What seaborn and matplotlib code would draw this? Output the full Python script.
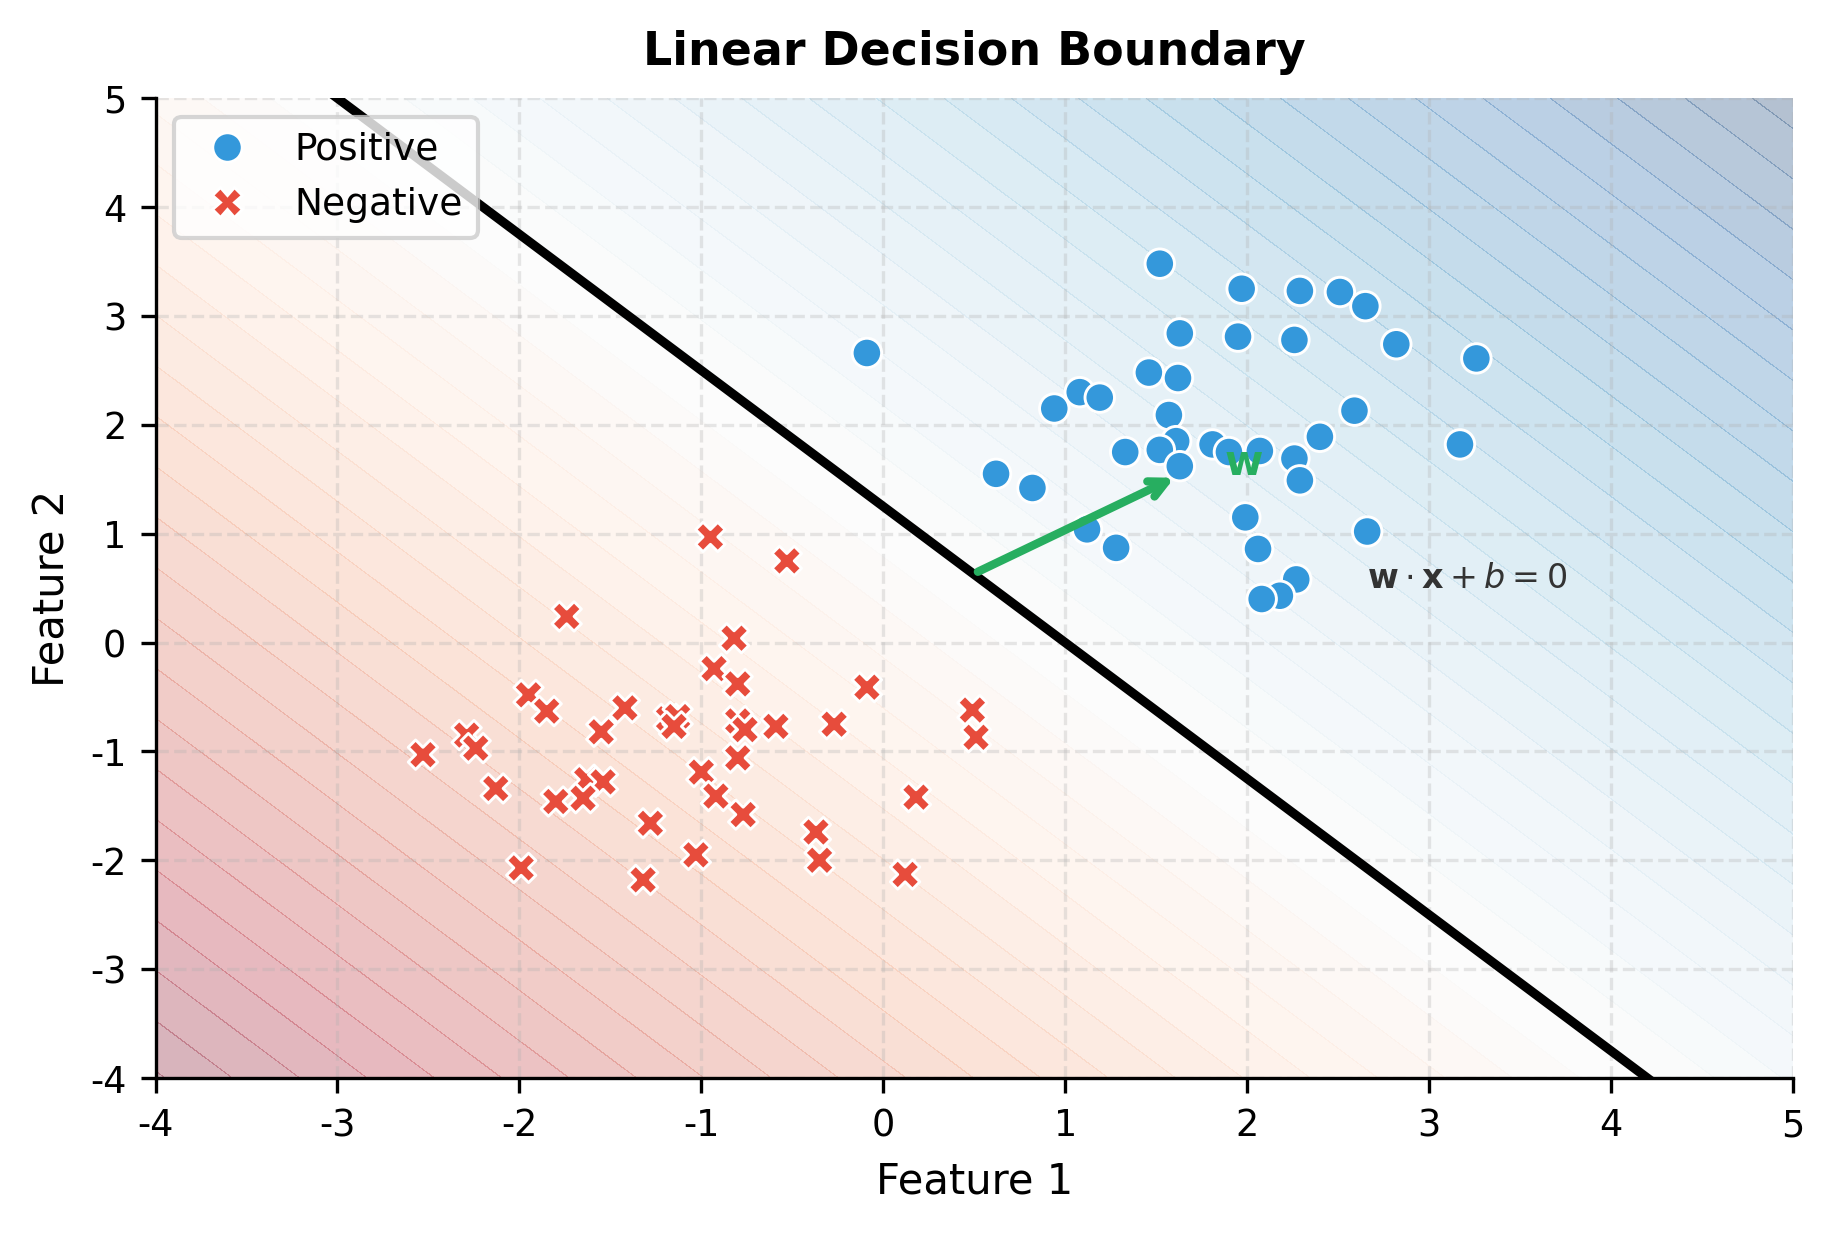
import numpy as np
import pandas as pd
import seaborn as sns
import matplotlib.pyplot as plt

plt.rcParams['axes.unicode_minus'] = False

# positive class (blue circles)
pos_x = [1.52, 1.97, 2.29, 2.51, 2.65, 1.63, 1.95, 2.26, 2.82, 3.26,
         -0.09, 1.46, 1.62, 1.08, 1.19, 0.94, 2.59, 1.57, 2.40, 1.61,
         1.81, 3.17, 1.52, 1.33, 1.90, 2.07, 2.26, 1.63, 0.62, 0.82,
         2.29, 1.99, 1.12, 2.66, 1.28, 2.06, 2.27, 2.18, 2.08]
pos_y = [3.48, 3.25, 3.23, 3.22, 3.09, 2.84, 2.81, 2.78, 2.74, 2.61,
         2.66, 2.48, 2.43, 2.30, 2.25, 2.15, 2.13, 2.09, 1.89, 1.85,
         1.82, 1.82, 1.77, 1.75, 1.75, 1.76, 1.69, 1.62, 1.55, 1.42,
         1.49, 1.15, 1.04, 1.02, 0.87, 0.86, 0.58, 0.43, 0.40]

# negative class (red crosses)
neg_x = [-0.95, -0.53, -1.74, -0.82, -0.93, -0.80, -0.09, -1.95, -1.85, -1.42,
         0.49, 0.51, -1.55, -1.18, -1.13, -1.15, -0.80, -0.76, -0.59, -0.27,
         -2.29, -2.24, -2.53, -0.80, -1.00, -2.13, -1.63, -1.54, -1.65, -1.80,
         -0.92, 0.18, -0.77, -1.28, -0.37, -0.35, -1.03, -1.99, -1.32, 0.12]
neg_y = [0.97, 0.75, 0.24, 0.04, -0.24, -0.38, -0.41, -0.48, -0.63, -0.60,
         -0.62, -0.87, -0.82, -0.70, -0.68, -0.77, -0.72, -0.80, -0.77, -0.75,
         -0.85, -0.97, -1.03, -1.06, -1.19, -1.34, -1.26, -1.28, -1.43, -1.46,
         -1.41, -1.42, -1.58, -1.66, -1.74, -2.00, -1.95, -2.07, -2.18, -2.13]

# linear model: w . x + b = 0
w = [1.08, 0.864]
b = -1.08
arrow_origin = [0.52, 0.65]

xlim = (-4, 5)
ylim = (-4, 5)

df = pd.DataFrame({
    'x': pos_x + neg_x,
    'y': pos_y + neg_y,
    'label': ['Positive'] * len(pos_x) + ['Negative'] * len(neg_x),
})

fig = plt.figure(figsize=(1834 / 300, 1234 / 300), dpi=300)
ax = fig.add_axes([0.0848, 0.1264, 0.8928, 0.794])

# background score field
gx = np.linspace(xlim[0], xlim[1], 300)
gy = np.linspace(ylim[0], ylim[1], 300)
xx, yy = np.meshgrid(gx, gy)
zz = w[0] * xx + w[1] * yy + b
ax.contourf(xx, yy, zz, levels=50, cmap='RdBu', alpha=0.3, zorder=0)

# decision boundary
lx = np.linspace(xlim[0], xlim[1], 200)
ly = -(w[0] * lx + b) / w[1]
ax.plot(lx, ly, color='black', lw=2.2, zorder=2)

sns.scatterplot(data=df, x='x', y='y', hue='label', style='label',
                hue_order=['Positive', 'Negative'],
                style_order=['Positive', 'Negative'],
                palette={'Positive': '#3498db', 'Negative': '#e74c3c'},
                markers={'Positive': 'o', 'Negative': 'X'},
                s=50, edgecolor='white', linewidth=0.7, zorder=3, ax=ax)

# weight vector
ax.annotate('', xy=(arrow_origin[0] + w[0], arrow_origin[1] + w[1]),
            xytext=(arrow_origin[0], arrow_origin[1]),
            arrowprops=dict(arrowstyle='->', color='#27ae60', lw=2,
                            shrinkA=0, shrinkB=0),
            zorder=4)
ax.text(1.98, 1.65, 'w', color='#27ae60', fontsize=10, fontweight='bold',
        ha='center', va='center', zorder=4)
ax.text(2.66, 0.59, r'$\mathbf{w} \cdot \mathbf{x} + b = 0$', color='#333333',
        fontsize=8, ha='left', va='center', zorder=4)

ax.set_xlim(*xlim)
ax.set_ylim(*ylim)
ax.set_xticks(range(-4, 6))
ax.set_yticks(range(-4, 6))
ax.tick_params(labelsize=8.8)
ax.grid(True, linestyle='--', alpha=0.3)
sns.despine(ax=ax)

ax.set_xlabel('Feature 1', fontsize=10)
ax.set_ylabel('Feature 2', fontsize=10)
ax.set_title('Linear Decision Boundary', fontsize=11, fontweight='bold', pad=8)

handles, labels = ax.get_legend_handles_labels()
keep = [(h, l) for h, l in zip(handles, labels) if l in ('Positive', 'Negative')]
ax.legend([h for h, _ in keep], [l for _, l in keep], loc='upper left',
          fontsize=9, framealpha=0.8)

fig.savefig('out.png', dpi=300)
